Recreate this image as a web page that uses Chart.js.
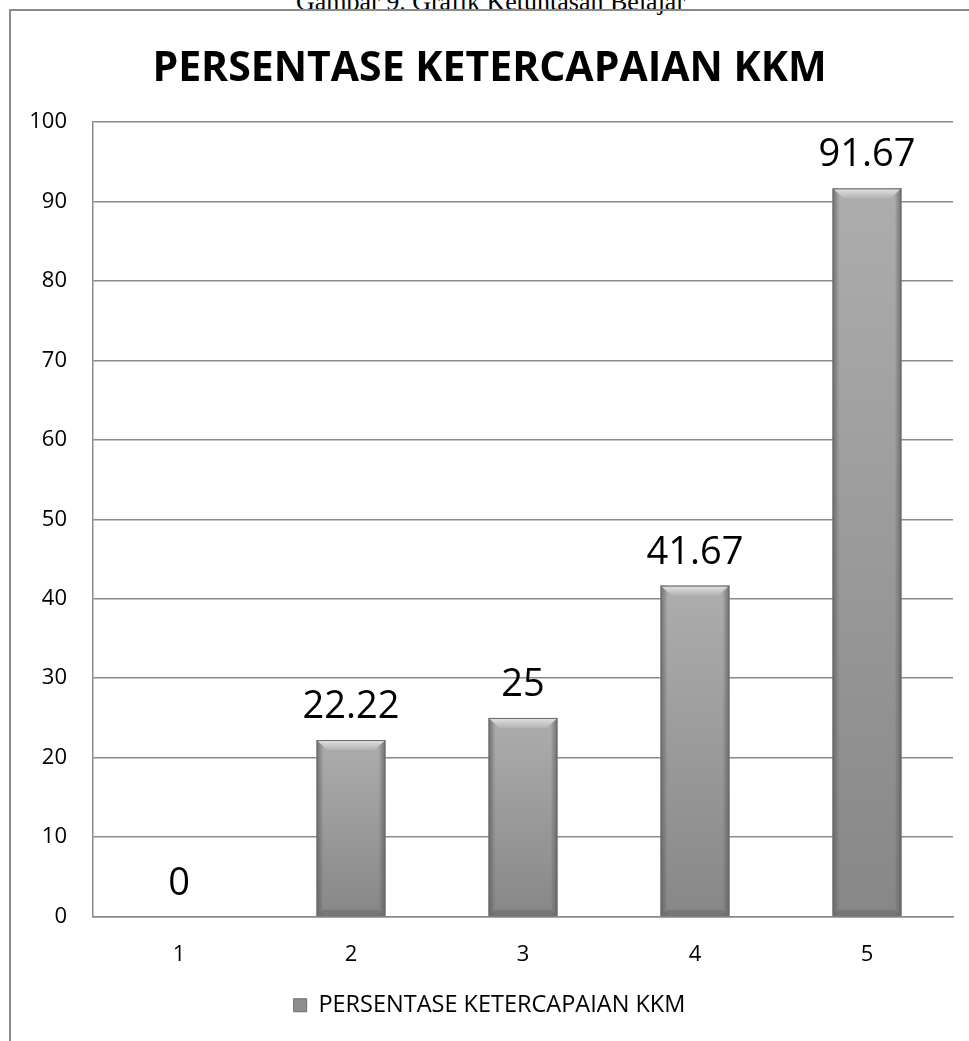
<!DOCTYPE html>
<html>
<head>
<meta charset="utf-8">
<title>Persentase Ketercapaian KKM</title>
<script src="https://cdn.jsdelivr.net/npm/chart.js@4"></script>
<style>
  html, body { margin: 0; padding: 0; background: #fff; }
  body { width: 969px; height: 1041px; overflow: hidden; position: relative; }
  #caption {
    position: absolute; left: 6px; top: -13px; width: 969px; line-height: 30px;
    text-align: center; font-family: "Liberation Serif", serif; font-size: 26px; color: #000;
  }
  #frame {
    position: absolute; left: 9px; top: 9px; width: 1000px; height: 1100px;
    border: 2px solid #8a8a8a;
  }
  #wrap { position: absolute; left: 0; top: 0; width: 969px; height: 1041px; }
</style>
</head>
<body>
<div id="caption">Gambar 9. Grafik Ketuntasan Belajar</div>
<div id="frame"></div>
<div id="wrap"><canvas id="chart"></canvas></div>
<script>
// data
const categories = ['1', '2', '3', '4', '5'];
const ketercapaian = [0, 22.22, 25, 41.67, 91.67];
const yTickValues = [0, 10, 20, 30, 40, 50, 60, 70, 80, 90, 100];
const seriesName = 'PERSENTASE KETERCAPAIAN KKM';

const FONT = "'Open Sans', 'DejaVu Sans', sans-serif";

function barFill(context) {
    const chart = context.chart;
    if (!chart.chartArea || context.type !== 'data') return '#999999';
    const y = chart.scales.y;
    const top = y.getPixelForValue(context.raw);
    const base = y.getPixelForValue(0);
    if (!(base - top > 1)) return '#999999';
    const g = chart.ctx.createLinearGradient(0, top, 0, base);
    g.addColorStop(0, '#adadad');
    g.addColorStop(1, '#878787');
    return g;
}

// bevel + edge shading on top of each bar, and the value labels
const barLook = {
    id: 'barLook',
    afterDatasetsDraw(chart) {
        const ctx = chart.ctx;
        const meta = chart.getDatasetMeta(0);
        meta.data.forEach((bar, i) => {
            const p = bar.getProps(['x', 'y', 'base', 'width'], true);
            const left = p.x - p.width / 2, right = p.x + p.width / 2;
            const top = p.y, base = p.base;
            const h = base - top;
            if (h > 4) {
                ctx.save();
                // side shading
                let g = ctx.createLinearGradient(left, 0, left + 7, 0);
                g.addColorStop(0, 'rgba(90,90,90,0.75)');
                g.addColorStop(1, 'rgba(90,90,90,0)');
                ctx.fillStyle = g;
                ctx.fillRect(left, top, 7, h);
                g = ctx.createLinearGradient(right, 0, right - 7, 0);
                g.addColorStop(0, 'rgba(90,90,90,0.75)');
                g.addColorStop(1, 'rgba(90,90,90,0)');
                ctx.fillStyle = g;
                ctx.fillRect(right - 7, top, 7, h);
                // top bevel
                const b = Math.min(10, h / 2);
                g = ctx.createLinearGradient(0, top, 0, top + b);
                g.addColorStop(0, '#e2e2e2');
                g.addColorStop(1, '#b4b4b4');
                ctx.fillStyle = g;
                ctx.beginPath();
                ctx.moveTo(left + 1, top + 1);
                ctx.lineTo(right - 1, top + 1);
                ctx.lineTo(right - 1 - b, top + b);
                ctx.lineTo(left + 1 + b, top + b);
                ctx.closePath();
                ctx.fill();
                // bottom bevel
                const bb = Math.min(6, h / 3);
                ctx.fillStyle = 'rgba(100,100,100,0.45)';
                ctx.beginPath();
                ctx.moveTo(left + 1, base);
                ctx.lineTo(right - 1, base);
                ctx.lineTo(right - 1 - bb, base - bb);
                ctx.lineTo(left + 1 + bb, base - bb);
                ctx.closePath();
                ctx.fill();
                ctx.strokeStyle = '#6c6c6c';
                ctx.lineWidth = 1;
                ctx.strokeRect(left + 0.5, top + 0.5, p.width - 1, h - 0.5);
                ctx.restore();
            }
            ctx.save();
            ctx.font = '38px ' + FONT;
            ctx.fillStyle = '#000';
            ctx.textAlign = 'center';
            ctx.textBaseline = 'alphabetic';
            ctx.fillText(String(ketercapaian[i]), p.x, top - 22);
            ctx.restore();
        });
    }
};

new Chart(document.getElementById('chart'), {
    type: 'bar',
    data: {
        labels: categories,
        datasets: [{
            label: seriesName,
            data: ketercapaian,
            backgroundColor: barFill,
            borderColor: '#6c6c6c',
            borderWidth: 0,
            barPercentage: 0.8,
            categoryPercentage: 0.5
        }]
    },
    options: {
        responsive: true,
        maintainAspectRatio: false,
        animation: false,
        layout: { padding: { left: 26, right: 16, top: 0, bottom: 14 } },
        plugins: {
            title: {
                display: true,
                text: seriesName,
                color: '#000',
                font: { family: FONT, size: 41, weight: 'bold' },
                padding: { top: 45, bottom: 28 }
            },
            legend: {
                position: 'bottom',
                labels: {
                    color: '#000',
                    font: { family: FONT, size: 23.5 },
                    boxWidth: 13,
                    boxHeight: 13,
                    padding: 10,
                    generateLabels(chart) {
                        return Chart.defaults.plugins.legend.labels.generateLabels(chart).map(item => {
                            item.fillStyle = '#8e8e8e';
                            item.strokeStyle = '#6c6c6c';
                            item.lineWidth = 1;
                            return item;
                        });
                    }
                }
            },
            tooltip: { enabled: false }
        },
        scales: {
            x: {
                grid: { display: false },
                border: { display: true, color: '#8a8a8a', width: 1.5 },
                ticks: { color: '#000', font: { family: FONT, size: 22 }, padding: 17 },
                afterFit(scale) { scale.height = 67; }
            },
            y: {
                min: 0,
                max: 100,
                afterBuildTicks(scale) { scale.ticks = yTickValues.map(v => ({ value: v })); },
                grid: { color: '#8a8a8a', lineWidth: 1.5, drawTicks: false },
                border: { display: true, color: '#8a8a8a', width: 1.5 },
                ticks: { color: '#000', font: { family: FONT, size: 22 }, padding: 26 },
                afterFit(scale) { scale.width = 67; }
            }
        }
    },
    plugins: [barLook]
});
</script>
</body>
</html>
